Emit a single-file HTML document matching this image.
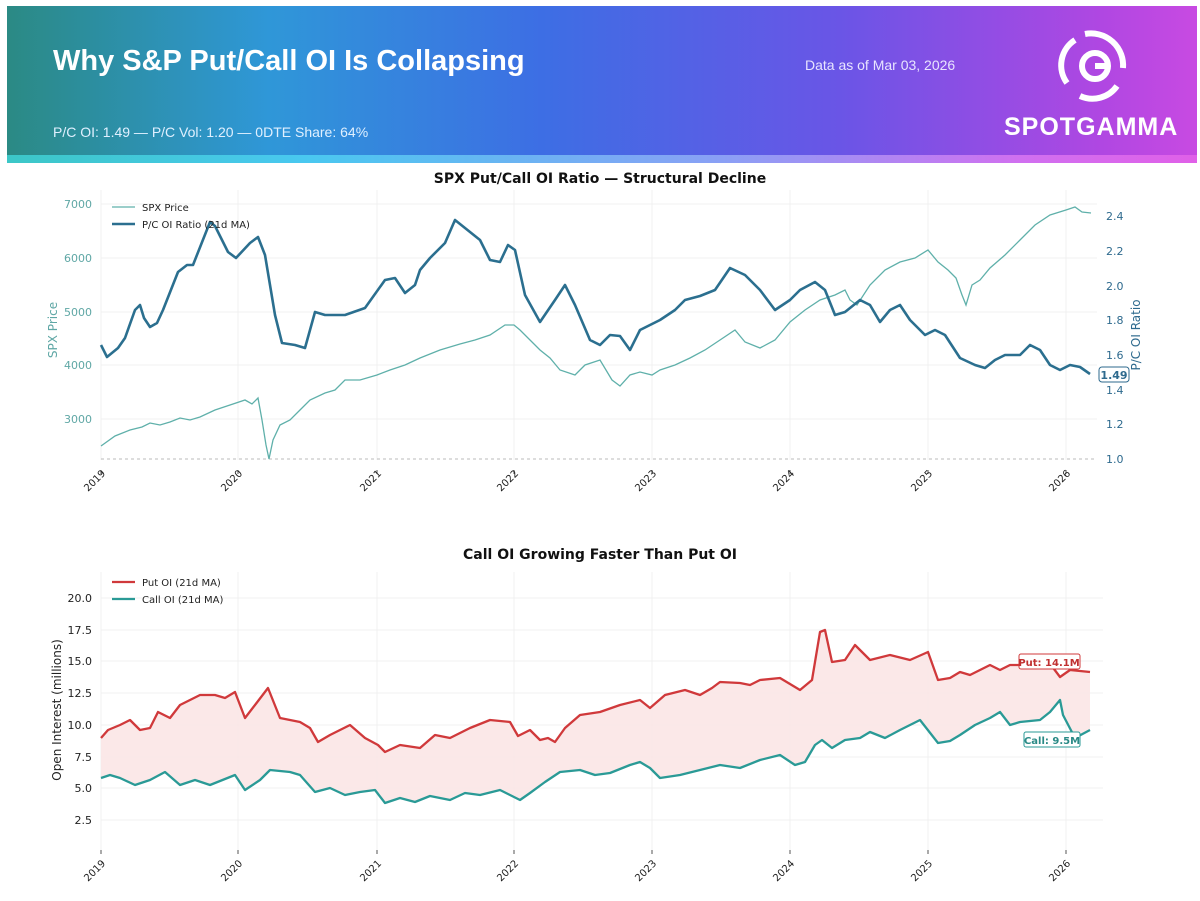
<!DOCTYPE html><html><head><style>
body{margin:0;width:1200px;height:901px;background:#fff;font-family:"DejaVu Sans","Liberation Sans",sans-serif;overflow:hidden;position:relative}
.hdr{position:absolute;left:7px;top:6px;width:1190px;height:152px;background:linear-gradient(90deg,#2b8a84 0%,#2f97d8 22%,#3d6ee4 45%,#6a55e6 70%,#b047e2 92%,#c84ae2 100%)}
.strip{position:absolute;left:7px;top:155px;width:1190px;height:8px;background:linear-gradient(90deg,#3cc7c7,#49c8f0 25%,#8aa0f5 60%,#d070f0 85%,#e060e8)}
.t{position:absolute;color:#fff;font-family:"Liberation Sans",sans-serif}
</style></head><body>
<div class="hdr"></div><div class="strip"></div>
<div class="t" style="left:53px;top:45px;font-size:29px;font-weight:bold">Why S&amp;P Put/Call OI Is Collapsing</div>
<div class="t" style="left:805px;top:57px;font-size:14px;color:#e8e4ff">Data as of Mar 03, 2026</div>
<div class="t" style="left:53px;top:124px;font-size:14px;color:#e0f0ff">P/C OI: 1.49 — P/C Vol: 1.20 — 0DTE Share: 64%</div>
<div class="t" style="left:1004px;top:113px;font-size:25px;font-weight:600;letter-spacing:1px">SPOTGAMMA</div>
<svg style="position:absolute;left:1055px;top:28px" width="75" height="75" viewBox="0 0 75 75"><g fill="none" stroke="#fff" stroke-width="6"><path d="M20 12 A30 30 0 0 0 12 55"/><path d="M30 6 A32 32 0 0 1 68 40"/><path d="M25 68 A30 30 0 0 0 62 58"/><circle cx="40" cy="38" r="13"/><path d="M40 38 H55"/></g></svg>
<svg style="position:absolute;left:0;top:0" width="1200" height="901" font-family="DejaVu Sans,sans-serif">
<text x="600" y="183" text-anchor="middle" font-size="14" font-weight="bold" fill="#111">SPX Put/Call OI Ratio — Structural Decline</text>
<g stroke="#f0f0f0" stroke-width="1">
<line x1="101" y1="190" x2="101" y2="460"/><line x1="238" y1="190" x2="238" y2="460"/><line x1="377" y1="190" x2="377" y2="460"/><line x1="514" y1="190" x2="514" y2="460"/><line x1="652" y1="190" x2="652" y2="460"/><line x1="790" y1="190" x2="790" y2="460"/><line x1="928" y1="190" x2="928" y2="460"/><line x1="1066" y1="190" x2="1066" y2="460"/>
<line x1="101" y1="204" x2="1097" y2="204"/><line x1="101" y1="258" x2="1097" y2="258"/><line x1="101" y1="312" x2="1097" y2="312"/><line x1="101" y1="365" x2="1097" y2="365"/><line x1="101" y1="419" x2="1097" y2="419"/>
</g>
<g stroke="#555" stroke-width="1">
<line x1="101" y1="470" x2="101" y2="474"/><line x1="238" y1="470" x2="238" y2="474"/><line x1="377" y1="470" x2="377" y2="474"/><line x1="514" y1="470" x2="514" y2="474"/><line x1="652" y1="470" x2="652" y2="474"/><line x1="790" y1="470" x2="790" y2="474"/><line x1="928" y1="470" x2="928" y2="474"/><line x1="1066" y1="470" x2="1066" y2="474"/>
<line x1="101" y1="850" x2="101" y2="854"/><line x1="238" y1="850" x2="238" y2="854"/><line x1="377" y1="850" x2="377" y2="854"/><line x1="514" y1="850" x2="514" y2="854"/><line x1="652" y1="850" x2="652" y2="854"/><line x1="790" y1="850" x2="790" y2="854"/><line x1="928" y1="850" x2="928" y2="854"/><line x1="1066" y1="850" x2="1066" y2="854"/></g>
<line x1="101" y1="459" x2="1097" y2="459" stroke="#bbb" stroke-dasharray="3,3"/>
<g font-size="11" fill="#5fa7a5" text-anchor="end">
<text x="92" y="208">7000</text><text x="92" y="262">6000</text><text x="92" y="316">5000</text><text x="92" y="369">4000</text><text x="92" y="423">3000</text></g>
<text transform="translate(57,330) rotate(-90)" text-anchor="middle" font-size="12" fill="#5fa7a5">SPX Price</text>
<g font-size="11" fill="#2e6a8e">
<text x="1106" y="220">2.4</text><text x="1106" y="255">2.2</text><text x="1106" y="290">2.0</text><text x="1106" y="324">1.8</text><text x="1106" y="359">1.6</text><text x="1106" y="394">1.4</text><text x="1106" y="428">1.2</text><text x="1106" y="463">1.0</text></g>
<text transform="translate(1140,335) rotate(-90)" text-anchor="middle" font-size="12" fill="#2e6a8e">P/C OI Ratio</text>
<rect x="1099" y="367" width="30" height="15" rx="3" fill="#fff" stroke="#2e6a8e"/><text x="1114" y="379" text-anchor="middle" font-size="11" font-weight="bold" fill="#2e6a8e">1.49</text>
<polyline fill="none" stroke="#5fb0aa" stroke-width="1.3" points="101,446 115,436 130,430 142,427 150,423 160,425 170,422 180,418 190,420 200,417 215,410 230,405 245,400 252,404 258,398 262,420 266,445 269,459 273,440 280,425 290,420 300,410 310,400 325,393 335,390 345,380 360,380 377,375 390,370 405,365 420,358 440,350 460,344 475,340 490,335 505,325 514,325 520,330 530,340 540,350 550,358 560,370 575,375 585,365 600,360 612,380 620,386 630,375 640,372 652,375 660,370 675,365 690,358 705,350 720,340 735,330 745,342 760,348 775,340 790,322 805,310 820,300 835,295 845,290 850,300 857,305 870,285 885,270 900,262 915,258 928,250 938,262 948,270 956,278 962,295 966,305 972,285 980,280 990,268 1005,255 1020,240 1035,225 1050,215 1066,210 1075,207 1082,212 1091,213"/>
<polyline fill="none" stroke="#2b6f8f" stroke-width="2.6" stroke-linejoin="round" points="101,345 107,357 118,348 125,338 135,310 140,305 144,318 150,327 157,323 163,310 178,272 187,265 193,265 210,222 215,226 228,252 236,258 250,243 258,237 265,255 275,315 282,343 295,345 305,348 315,312 325,315 345,315 365,308 385,280 395,278 405,293 415,285 420,270 430,258 445,243 455,220 465,228 480,240 490,260 500,262 508,245 515,250 525,295 540,322 555,300 565,285 575,305 590,340 600,345 610,335 620,336 630,350 640,330 650,325 660,320 675,310 685,300 700,296 715,290 730,268 745,275 760,290 775,310 790,300 800,290 815,282 825,290 835,315 845,312 860,300 870,305 880,322 890,310 900,305 910,320 925,335 935,330 945,335 960,358 975,365 985,368 995,360 1005,355 1020,355 1030,345 1040,350 1050,365 1060,370 1070,365 1080,367 1090,374"/>
<line x1="112" y1="207" x2="135" y2="207" stroke="#5fb0aa" stroke-width="1.3"/><text x="142" y="211" font-size="10" fill="#222">SPX Price</text>
<line x1="112" y1="224" x2="135" y2="224" stroke="#2b6f8f" stroke-width="2.6"/><text x="142" y="228" font-size="10" fill="#222">P/C OI Ratio (21d MA)</text>
<g font-size="10" fill="#222" text-anchor="end">
<text transform="translate(106,474) rotate(-45)">2019</text><text transform="translate(243,474) rotate(-45)">2020</text><text transform="translate(382,474) rotate(-45)">2021</text><text transform="translate(519,474) rotate(-45)">2022</text><text transform="translate(657,474) rotate(-45)">2023</text><text transform="translate(795,474) rotate(-45)">2024</text><text transform="translate(933,474) rotate(-45)">2025</text><text transform="translate(1071,474) rotate(-45)">2026</text>
<text transform="translate(106,864) rotate(-45)">2019</text><text transform="translate(243,864) rotate(-45)">2020</text><text transform="translate(382,864) rotate(-45)">2021</text><text transform="translate(519,864) rotate(-45)">2022</text><text transform="translate(657,864) rotate(-45)">2023</text><text transform="translate(795,864) rotate(-45)">2024</text><text transform="translate(933,864) rotate(-45)">2025</text><text transform="translate(1071,864) rotate(-45)">2026</text></g>
<text x="600" y="559" text-anchor="middle" font-size="14" font-weight="bold" fill="#111">Call OI Growing Faster Than Put OI</text>
<g stroke="#f0f0f0">
<line x1="101" y1="572" x2="101" y2="850"/><line x1="238" y1="572" x2="238" y2="850"/><line x1="377" y1="572" x2="377" y2="850"/><line x1="514" y1="572" x2="514" y2="850"/><line x1="652" y1="572" x2="652" y2="850"/><line x1="790" y1="572" x2="790" y2="850"/><line x1="928" y1="572" x2="928" y2="850"/><line x1="1066" y1="572" x2="1066" y2="850"/>
<line x1="101" y1="598" x2="1103" y2="598"/><line x1="101" y1="630" x2="1103" y2="630"/><line x1="101" y1="661" x2="1103" y2="661"/><line x1="101" y1="693" x2="1103" y2="693"/><line x1="101" y1="725" x2="1103" y2="725"/><line x1="101" y1="757" x2="1103" y2="757"/><line x1="101" y1="788" x2="1103" y2="788"/><line x1="101" y1="820" x2="1103" y2="820"/></g>
<g font-size="11" fill="#222" text-anchor="end"><text x="92" y="602">20.0</text><text x="92" y="634">17.5</text><text x="92" y="665">15.0</text><text x="92" y="697">12.5</text><text x="92" y="729">10.0</text><text x="92" y="761">7.5</text><text x="92" y="792">5.0</text><text x="92" y="824">2.5</text></g>
<text transform="translate(61,710) rotate(-90)" text-anchor="middle" font-size="12" fill="#222">Open Interest (millions)</text>
<polygon fill="#fbe6e6" opacity="0.9" points="101,738 108,730 120,725 130,720 140,730 150,728 158,712 170,718 180,705 200,695 215,695 225,698 235,692 245,718 255,705 268,688 280,718 300,722 310,728 318,742 330,735 350,725 365,738 378,745 385,752 400,745 420,748 435,735 450,738 470,728 490,720 510,722 518,736 530,730 540,740 548,738 555,742 565,728 580,715 600,712 620,705 640,700 650,708 665,695 685,690 700,695 712,688 720,682 740,683 750,685 760,680 780,678 800,690 812,680 820,632 825,630 832,662 845,660 855,645 870,660 890,655 910,660 928,652 938,680 950,678 960,672 970,675 990,665 1000,670 1010,665 1030,665 1045,657 1060,677 1070,670 1090,672 1090,730 1075,738 1063,715 1060,700 1050,712 1040,720 1020,722 1010,725 1000,712 990,718 975,725 960,735 950,741 938,743 920,720 900,730 885,738 870,732 860,738 845,740 832,748 822,740 815,745 805,762 795,765 780,755 760,760 740,768 720,765 700,770 680,775 660,778 650,768 640,762 630,765 610,773 595,775 580,770 560,772 545,782 530,793 520,800 500,790 480,795 465,793 450,800 430,796 415,802 400,798 385,803 375,790 360,792 345,795 330,788 315,792 300,775 290,772 270,770 260,780 245,790 235,775 210,785 195,780 180,785 165,772 150,780 135,785 120,778 110,775 101,778"/>
<polyline fill="none" stroke="#d0393b" stroke-width="2.3" stroke-linejoin="round" points="101,738 108,730 120,725 130,720 140,730 150,728 158,712 170,718 180,705 200,695 215,695 225,698 235,692 245,718 255,705 268,688 280,718 300,722 310,728 318,742 330,735 350,725 365,738 378,745 385,752 400,745 420,748 435,735 450,738 470,728 490,720 510,722 518,736 530,730 540,740 548,738 555,742 565,728 580,715 600,712 620,705 640,700 650,708 665,695 685,690 700,695 712,688 720,682 740,683 750,685 760,680 780,678 800,690 812,680 820,632 825,630 832,662 845,660 855,645 870,660 890,655 910,660 928,652 938,680 950,678 960,672 970,675 990,665 1000,670 1010,665 1030,665 1045,657 1060,677 1070,670 1090,672"/>
<polyline fill="none" stroke="#2a9a96" stroke-width="2.3" stroke-linejoin="round" points="101,778 110,775 120,778 135,785 150,780 165,772 180,785 195,780 210,785 235,775 245,790 260,780 270,770 290,772 300,775 315,792 330,788 345,795 360,792 375,790 385,803 400,798 415,802 430,796 450,800 465,793 480,795 500,790 520,800 530,793 545,782 560,772 580,770 595,775 610,773 630,765 640,762 650,768 660,778 680,775 700,770 720,765 740,768 760,760 780,755 795,765 805,762 815,745 822,740 832,748 845,740 860,738 870,732 885,738 900,730 920,720 938,743 950,741 960,735 975,725 990,718 1000,712 1010,725 1020,722 1040,720 1050,712 1060,700 1063,715 1075,738 1090,730"/>
<rect x="1019" y="654" width="61" height="15" rx="2" fill="#fff" stroke="#d0393b"/><text x="1049" y="666" text-anchor="middle" font-size="10" font-weight="bold" fill="#c03030">Put: 14.1M</text>
<rect x="1024" y="732" width="56" height="15" rx="2" fill="#fff" stroke="#2a9a96"/><text x="1052" y="744" text-anchor="middle" font-size="10" font-weight="bold" fill="#2a8a86">Call: 9.5M</text>
<line x1="112" y1="582" x2="135" y2="582" stroke="#d0393b" stroke-width="2.3"/><text x="142" y="586" font-size="10" fill="#222">Put OI (21d MA)</text>
<line x1="112" y1="599" x2="135" y2="599" stroke="#2a9a96" stroke-width="2.3"/><text x="142" y="603" font-size="10" fill="#222">Call OI (21d MA)</text>
</svg></body></html>
